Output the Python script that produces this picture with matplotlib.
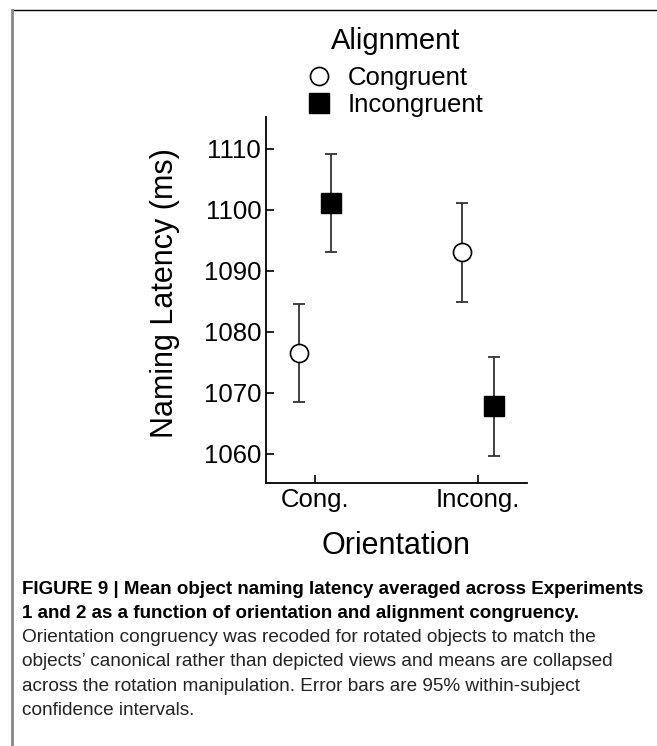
import matplotlib
matplotlib.use('Agg')
import matplotlib.pyplot as plt
from matplotlib.lines import Line2D

plt.rcParams['font.family'] = ['Liberation Sans', 'DejaVu Sans']

# data
orientations = ['Cong.', 'Incong.']
alignments = ['Congruent', 'Incongruent']
congruent_means = [1076.5, 1093.0]
incongruent_means = [1101.1, 1067.8]
congruent_ci = [8.1, 8.1]
incongruent_ci = [8.1, 8.1]
yticks = [1060, 1070, 1080, 1090, 1100, 1110]

caption_bold = ["FIGURE 9 | Mean object naming latency averaged across Experiments",
                "1 and 2 as a function of orientation and alignment congruency."]
caption_text = ["Orientation congruency was recoded for rotated objects to match the",
                "objects\u2019 canonical rather than depicted views and means are collapsed",
                "across the rotation manipulation. Error bars are 95% within-subject",
                "confidence intervals."]

W, H = 657, 746
fig = plt.figure(figsize=(W / 100, H / 100), dpi=100)
ax = fig.add_axes([266 / W, 1 - 483 / H, 261 / W, 366 / H])

offset = 0.1
x = range(len(orientations))
xc = [i - offset for i in x]
xi = [i + offset for i in x]

ax.errorbar(xc, congruent_means, yerr=congruent_ci, fmt='none', ecolor='#333333',
            elinewidth=1.3, capsize=4.3, capthick=1.3, zorder=2)
ax.errorbar(xi, incongruent_means, yerr=incongruent_ci, fmt='none', ecolor='#333333',
            elinewidth=1.3, capsize=4.3, capthick=1.3, zorder=2)
h1, = ax.plot(xc, congruent_means, 'o', ms=13, mfc='white', mec='black', mew=1.2,
              ls='none', zorder=3, label=alignments[0])
h2, = ax.plot(xi, incongruent_means, 's', ms=14, mfc='black', mec='black', mew=1,
              ls='none', zorder=3, label=alignments[1])

ax.set_xlim(-0.3, 1.3)
ax.set_ylim(1055.2, 1115.2)
ax.set_xticks(list(x))
ax.set_xticklabels(orientations)
ax.set_yticks(yticks)
ax.tick_params(direction='in', length=5.8, width=1.2, labelsize=18.5, pad=3.5)
for s in ['top', 'right']:
    ax.spines[s].set_visible(False)
for s in ['left', 'bottom']:
    ax.spines[s].set_linewidth(1.3)

ax.set_ylabel('Naming Latency (ms)', fontsize=22)
ax.yaxis.set_label_coords(-0.33, 0.52)
ax.set_xlabel('Orientation', fontsize=22)
ax.xaxis.set_label_coords(0.5, -0.13)

leg = fig.legend(handles=[h1, h2], title='Alignment', loc='upper center',
                 bbox_to_anchor=(396 / W, 1 - 27 / H), frameon=False,
                 fontsize=18.5, title_fontsize=21, handlelength=0.8,
                 handletextpad=0.7, labelspacing=0.1, borderpad=0,
                 borderaxespad=0)
leg._legend_box.sep = 8

# caption
y0 = 1 - 589 / H
dy = 24.3 / H
for k, line in enumerate(caption_bold):
    fig.text(22 / W, y0 - k * dy, line, fontsize=13.5, fontweight='bold',
             va='center', ha='left')
for k, line in enumerate(caption_text):
    fig.text(22 / W, y0 - (k + 2) * dy, line, fontsize=13.7, color='#222222',
             va='center', ha='left')

# panel border
fig.add_artist(Line2D([12 / W, 1], [1 - 10 / H, 1 - 10 / H], color='black', lw=1))
fig.add_artist(Line2D([12 / W, 12 / W], [0, 1 - 10 / H], color='#888888', lw=2))

fig.savefig('out.png', dpi=100, facecolor='white')
